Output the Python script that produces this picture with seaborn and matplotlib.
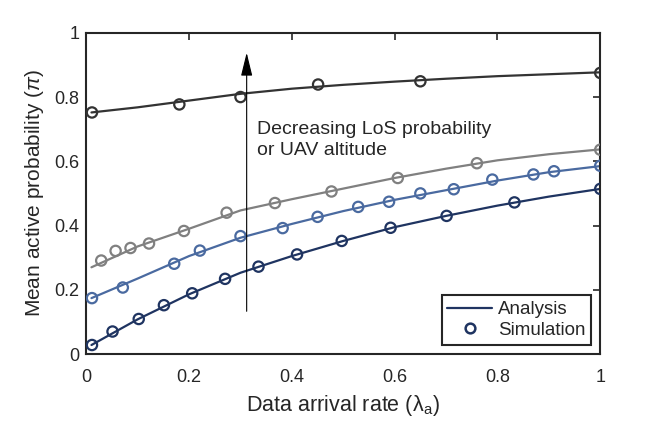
import numpy as np
import pandas as pd
import matplotlib
matplotlib.use("Agg")
import matplotlib.pyplot as plt
import seaborn as sns
from matplotlib.lines import Line2D

# analysis curves
ana_x = [0.01, 0.1, 0.2, 0.3, 0.4, 0.5, 0.6, 0.7, 0.8, 0.9, 1.0]
ana_top = [0.752, 0.768, 0.789, 0.810, 0.826, 0.838, 0.848, 0.857, 0.865, 0.871, 0.877]
ana_gray = [0.270, 0.335, 0.390, 0.447, 0.482, 0.515, 0.548, 0.577, 0.603, 0.622, 0.637]
ana_blue = [0.174, 0.235, 0.305, 0.362, 0.405, 0.445, 0.480, 0.510, 0.540, 0.566, 0.585]
ana_navy = [0.028, 0.108, 0.186, 0.253, 0.305, 0.352, 0.395, 0.430, 0.462, 0.490, 0.514]

# simulation points
sim_top_x = [0.011, 0.181, 0.30, 0.451, 0.65, 1.0]
sim_top_y = [0.752, 0.777, 0.80, 0.839, 0.849, 0.875]
sim_gray_x = [0.029, 0.057, 0.086, 0.122, 0.19, 0.273, 0.367, 0.477, 0.606, 0.76, 1.0]
sim_gray_y = [0.291, 0.321, 0.330, 0.344, 0.383, 0.440, 0.470, 0.506, 0.548, 0.594, 0.636]
sim_blue_x = [0.011, 0.071, 0.171, 0.221, 0.30, 0.382, 0.45, 0.529, 0.589, 0.65,
              0.715, 0.79, 0.87, 0.91, 1.0]
sim_blue_y = [0.174, 0.207, 0.281, 0.322, 0.367, 0.392, 0.427, 0.458, 0.474, 0.500,
              0.513, 0.543, 0.559, 0.569, 0.586]
sim_navy_x = [0.011, 0.051, 0.102, 0.151, 0.206, 0.27, 0.335, 0.41, 0.497, 0.592,
              0.701, 0.833, 1.0]
sim_navy_y = [0.028, 0.070, 0.109, 0.152, 0.189, 0.234, 0.272, 0.310, 0.352, 0.393,
              0.430, 0.472, 0.514]

ticks = [0, 0.2, 0.4, 0.6, 0.8, 1]
tick_labels = ["0", "0.2", "0.4", "0.6", "0.8", "1"]

colors = {"top": "#333333", "gray": "#808080", "blue": "#4a6aa0", "navy": "#1f3461"}

sns.set_style("white")
plt.rcParams["font.family"] = ["Liberation Sans", "DejaVu Sans"]
plt.rcParams["mathtext.fontset"] = "custom"
plt.rcParams["mathtext.it"] = "Liberation Sans:italic"
plt.rcParams["mathtext.rm"] = "Liberation Sans"

fig = plt.figure(figsize=(6.64, 4.26), dpi=100)
ax = fig.add_axes([0.13, 0.169, 0.774, 0.754])

ana = pd.DataFrame({
    "x": ana_x * 4,
    "y": ana_top + ana_gray + ana_blue + ana_navy,
    "s": ["top"] * 11 + ["gray"] * 11 + ["blue"] * 11 + ["navy"] * 11,
})
sns.lineplot(data=ana, x="x", y="y", hue="s", palette=colors, linewidth=1.6,
             legend=False, ax=ax, sort=True)

for key, xs, ys in [("top", sim_top_x, sim_top_y), ("gray", sim_gray_x, sim_gray_y),
                    ("blue", sim_blue_x, sim_blue_y), ("navy", sim_navy_x, sim_navy_y)]:
    sns.scatterplot(x=xs, y=ys, ax=ax, s=55, facecolors="none",
                    edgecolor=colors[key], linewidth=1.6, zorder=3)

# arrow
ax.annotate("", xy=(0.312, 0.938), xytext=(0.312, 0.133),
            arrowprops=dict(arrowstyle="-|>,head_length=0.9,head_width=0.22",
                            color="black", lw=0.8, mutation_scale=16,
                            shrinkA=0, shrinkB=0))
ax.text(0.333, 0.665, "Decreasing LoS probability\nor UAV altitude",
        fontsize=14, va="center", ha="left", linespacing=1.3)

ax.set_xlim(0, 1)
ax.set_ylim(0, 1)
ax.set_xticks(ticks)
ax.set_xticklabels(tick_labels)
ax.set_yticks(ticks)
ax.set_yticklabels(tick_labels)
ax.tick_params(direction="in", top=True, right=True, length=5, width=1.2,
               labelsize=13, colors="#262626")
ax.tick_params(axis="x", pad=11)
ax.tick_params(axis="y", pad=5)
for sp in ax.spines.values():
    sp.set_linewidth(1.5)
    sp.set_color("#262626")
ax.set_xlabel("Data arrival rate (λ$_\\mathrm{a}$)", fontsize=15.5,
              color="#262626", labelpad=5)
ax.set_ylabel(r"Mean active probability ($\pi$)", fontsize=15,
              color="#262626", labelpad=6)

handles = [Line2D([], [], color=colors["navy"], lw=1.6),
           Line2D([], [], color=colors["navy"], marker="o", ls="", mfc="none",
                  mew=1.8, ms=7)]
leg = ax.legend(handles, ["Analysis", "Simulation"], loc="lower right", fontsize=13.5,
                fancybox=False, framealpha=1, edgecolor="#262626",
                borderaxespad=0.5, handlelength=2.4, handletextpad=0.3,
                borderpad=0.3, labelspacing=0.2)
leg.get_frame().set_linewidth(1.5)

fig.savefig("out.png", dpi=100)
